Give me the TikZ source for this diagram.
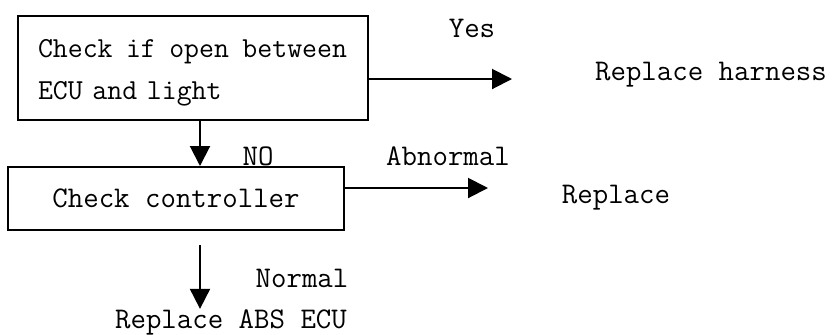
\documentclass[tikz,border=0pt]{standalone}
\usepackage{fontspec}
\usetikzlibrary{arrows.meta}
\begin{document}
\begin{tikzpicture}[x=0.5pt, y=-0.5pt,
    font=\ttfamily\fontsize{15}{18}\selectfont,
    box/.style={draw, line width=1pt, inner sep=0pt},
    flow/.style={line width=1pt, -{Triangle[length=10pt,width=10pt]}},
    lbl/.style={anchor=base, inner sep=0pt}]
  % fixed frame, same proportions as the original sheet
  \useasboundingbox (0,0) rectangle (834,334);

  % --- first check: open circuit between ECU and light ---
  \node[box, minimum width=175pt, minimum height=52pt, text width=155pt,
        align=left, inner xsep=10pt,
        font=\ttfamily\fontsize{14.5}{21}\selectfont]
    (chkopen) at (193,68)
    {\rule{0pt}{13.5pt}\makebox[154.5pt][l]{Check\hfill if\hfill open\hfill between}\\
     ECU and light};

  % --- second check: controller ---
  \node[box, minimum width=168pt, minimum height=31.5pt]
    (chkctrl) at (176,198.5) {Check controller};

  % --- labels and outcomes ---
  \node[lbl] (yes)    at (472,37)  {Yes};
  \node[lbl] (rephar) at (711,80)  {Replace harness};
  \node[lbl] (no)     at (258,165) {NO};
  \node[lbl] (abn)    at (448,165) {Abnormal};
  \node[lbl] (rep)    at (616,203) {Replace};
  \node[lbl] (norm)   at (302,287) {Normal};
  \node[lbl] (repecu) at (231,328) {Replace ABS ECU};

  % arrow ends
  \coordinate (yestip) at (512,79);
  \coordinate (abntip) at (488,188);
  \coordinate (stem)   at (200,245);

  % --- connectors ---
  \draw[flow] (chkopen.east |- yestip) -- (yestip);
  \draw[flow] (chkopen.south -| stem) -- (chkctrl.north -| stem);
  \draw[flow] (chkctrl.east |- abntip) -- (abntip);
  \draw[flow] (stem) -- (stem |- repecu.north);
\end{tikzpicture}
\end{document}
